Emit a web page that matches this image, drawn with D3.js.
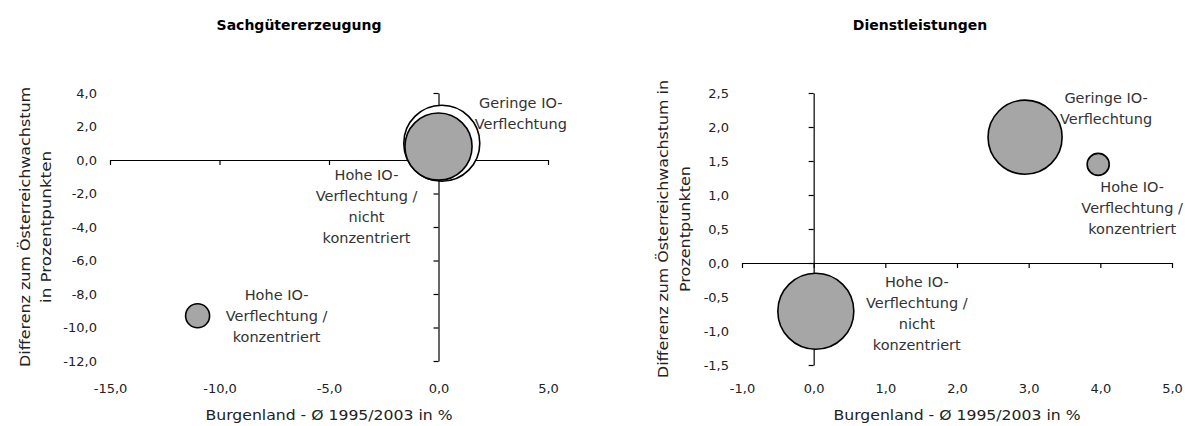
<!DOCTYPE html>
<html>
<head>
<meta charset="utf-8">
<script src="https://cdn.jsdelivr.net/npm/d3@7/dist/d3.min.js"></script>
<style>
  html, body { margin: 0; padding: 0; background: #fff; }
  svg { display: block; }
  text { font-family: "DejaVu Sans", sans-serif; fill: #222; }
</style>
</head>
<body>
<svg id="chart" width="1185" height="426"></svg>
<script>
// ---------- data ----------
const panelTitles = ["Sachgütererzeugung", "Dienstleistungen"];
const xAxisTitle = "Burgenland - Ø 1995/2003 in %";
const yAxisTitleLeft = ["Differenz zum Österreichwachstum", "in Prozentpunkten"];
const yAxisTitleRight = ["Differenz zum Österreichwachstum in", "Prozentpunkten"];

const clusterNames = [
  ["Geringe IO-", "Verflechtung"],
  ["Hohe IO-", "Verflechtung /", "nicht", "konzentriert"],
  ["Hohe IO-", "Verflechtung /", "konzentriert"]
];

// Sachgütererzeugung
const sachX = [0.15, 0.0, -11.0];
const sachY = [1.0, 0.8, -9.3];
const sachSize = [100, 78, 10];
const sachTicksX = [-15, -10, -5, 0, 5];
const sachTicksY = [4, 2, 0, -2, -4, -6, -8, -10, -12];

// Dienstleistungen
const dienstX = [2.95, 0.03, 3.97];
const dienstY = [1.85, -0.71, 1.45];
const dienstSize = [95, 100, 8.4];
const dienstCluster = [0, 1, 2];
const dienstTicksX = [-1, 0, 1, 2, 3, 4, 5];
const dienstTicksY = [2.5, 2.0, 1.5, 1.0, 0.5, 0.0, -0.5, -1.0, -1.5];

// ---------- layout ----------
const fmt = d3.formatLocale({decimal: ",", thousands: ".", grouping: [3], currency: ["", ""], minus: "-"}).format(".1f");
const svg = d3.select("#chart");
const maxR = 38;

const panels = [
  {
    title: panelTitles[0], titleX: 299,
    xs: sachX, ys: sachY, sizes: sachSize, cluster: [0, 1, 2],
    fills: ["#ffffff", "#a6a6a6", "#a6a6a6"],
    ticksX: sachTicksX, ticksY: sachTicksY,
    xRange: [110, 548], yRange: [361, 93],
    yLabelEnd: 97, yTitle: yAxisTitleLeft, yTitleX: [29.5, 51], yTitleLen: [280, 152],
    labelOffsets: [[79, -40], [-72, 28], [79, -21]]
  },
  {
    title: panelTitles[1], titleX: 920,
    xs: dienstX, ys: dienstY, sizes: dienstSize, cluster: dienstCluster,
    fills: ["#a6a6a6", "#a6a6a6", "#a6a6a6"],
    ticksX: dienstTicksX, ticksY: dienstTicksY,
    xRange: [742, 1172], yRange: [365, 93],
    yLabelEnd: 729, yTitle: yAxisTitleRight, yTitleX: [667.5, 689.5], yTitleLen: [298, 126],
    labelOffsets: [[81, -39], [101, -29], [34, 23]]
  }
];

panels.forEach(p => {
  const x = d3.scaleLinear().domain(d3.extent(p.ticksX)).range(p.xRange);
  const y = d3.scaleLinear().domain(d3.extent(p.ticksY)).range(p.yRange);
  const r = d3.scaleSqrt().domain([0, 100]).range([0, maxR]);
  const g = svg.append("g");

  // title
  g.append("text").attr("x", p.titleX).attr("y", 30)
    .attr("text-anchor", "middle").style("font-weight", "bold").style("font-size", "14px")
    .style("fill", "#000").text(p.title);

  // horizontal axis through y=0
  const xAx = g.append("g").attr("transform", `translate(0,${y(0)})`)
    .call(d3.axisBottom(x).tickValues(p.ticksX).tickSize(5).tickSizeOuter(0).tickFormat(""));
  // vertical axis through x=0
  const yAx = g.append("g").attr("transform", `translate(${x(0)},0)`)
    .call(d3.axisLeft(y).tickValues(p.ticksY).tickSize(5).tickSizeOuter(0).tickFormat(""));
  [xAx, yAx].forEach(a => {
    a.selectAll("path,line").attr("stroke", "#000").attr("stroke-width", 1.2);
  });

  // x tick labels at bottom
  const xLab = g.append("g").attr("transform", `translate(0,384)`)
    .call(d3.axisBottom(x).tickValues(p.ticksX).tickSize(0).tickPadding(0).tickFormat(fmt));
  xLab.select(".domain").remove();
  xLab.selectAll("text").style("font-size", "13px").style("font-family", "DejaVu Sans").attr("fill", "#222");

  // y tick labels on the left
  const yLab = g.append("g").attr("transform", `translate(${p.yLabelEnd},0)`)
    .call(d3.axisLeft(y).tickValues(p.ticksY).tickSize(0).tickPadding(0).tickFormat(fmt));
  yLab.select(".domain").remove();
  yLab.selectAll("text").style("font-size", "13px").style("font-family", "DejaVu Sans").attr("fill", "#222");

  // axis titles
  g.append("text").attr("x", d3.mean(p.xRange)).attr("y", 420)
    .attr("text-anchor", "middle").style("font-size", "14px")
    .attr("textLength", 247).attr("lengthAdjust", "spacingAndGlyphs").text(xAxisTitle);
  const yMid = d3.mean(p.yRange);
  p.yTitle.forEach((t, i) => {
    g.append("text")
      .attr("transform", `translate(${p.yTitleX[i]},${yMid}) rotate(-90)`)
      .attr("text-anchor", "middle").style("font-size", "14px")
      .attr("textLength", p.yTitleLen[i]).attr("lengthAdjust", "spacingAndGlyphs").text(t);
  });

  // bubbles (largest first)
  const idx = d3.range(p.xs.length).sort((a, b) => p.sizes[b] - p.sizes[a]);
  g.selectAll("circle.b").data(idx).join("circle").attr("class", "b")
    .attr("cx", i => x(p.xs[i])).attr("cy", i => y(p.ys[i]))
    .attr("r", i => r(p.sizes[i]))
    .attr("fill", i => p.fills[i]).attr("stroke", "#000").attr("stroke-width", 1.6);

  // data labels
  d3.range(p.xs.length).forEach(i => {
    const lines = clusterNames[p.cluster[i]];
    const [dx, dy] = p.labelOffsets[i];
    const t = g.append("text")
      .attr("x", x(p.xs[i]) + dx).attr("y", y(p.ys[i]) + dy)
      .attr("text-anchor", "middle").style("font-size", "14.5px").style("fill", "#333");
    lines.forEach((l, k) => {
      t.append("tspan").attr("x", x(p.xs[i]) + dx).attr("dy", k === 0 ? "0.35em" : "21px").text(l);
    });
  });
});
</script>
</body>
</html>
